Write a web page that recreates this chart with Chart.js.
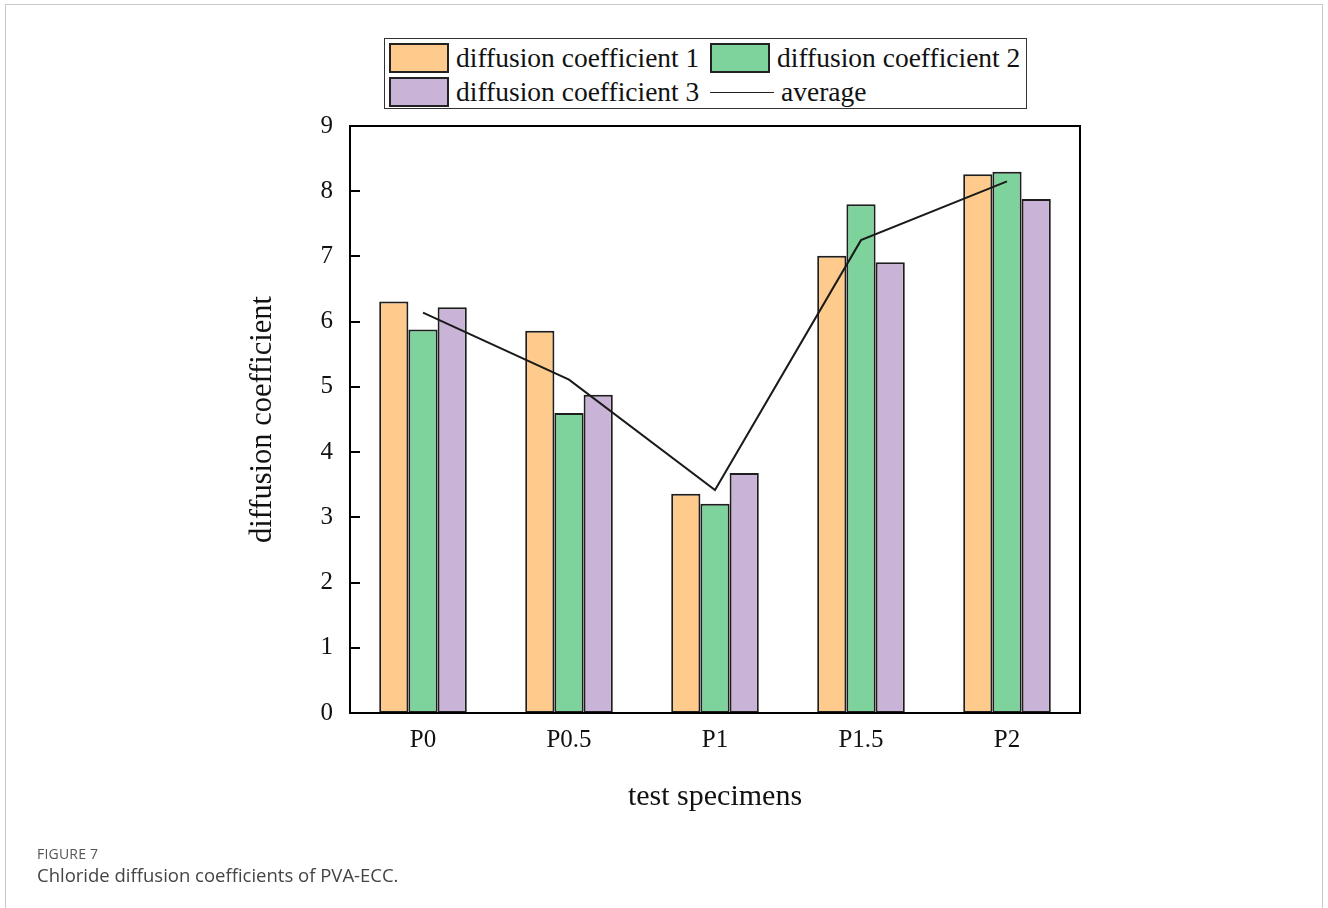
<!DOCTYPE html>
<html>
<head>
<meta charset="utf-8">
<title>Chloride diffusion coefficients of PVA-ECC</title>
<script src="https://cdn.jsdelivr.net/npm/chart.js@4.4.0/dist/chart.umd.min.js"></script>
<style>
  body { margin: 0; background: #fff; width: 1328px; height: 908px; overflow: hidden; position: relative; }
  #frame { position: absolute; left: 5px; top: 4px; width: 1316px; height: 930px; border: 1px solid #c8c8c8; }
  #the_chart { position: absolute; left: 0; top: 0; }
  #legend { position: absolute; left: 384px; top: 38px; width: 641px; height: 69px; border: 1.5px solid #333;
            background: #fff; font-family: "Liberation Serif", serif; font-size: 27.5px; color: #111; }
  .item { position: absolute; height: 32px; display: flex; align-items: center; white-space: nowrap; }
  .swatch { width: 60px; height: 30px; border: 2px solid #222; margin-right: 7px; box-sizing: border-box; }
  .dash { width: 64px; height: 0; border-top: 1.8px solid #222; margin-right: 7px; }
  #caption { position: absolute; left: 37px; top: 844px; font-family: "Open Sans", sans-serif; color: #555; }
  #caption .fig { font-size: 14px; letter-spacing: 0.2px; }
  #caption .txt { font-size: 18.5px; color: #444; margin-top: -1px; }
</style>
</head>
<body>
<div id="frame"></div>
<canvas id="the_chart" width="1328" height="908"></canvas>
<div id="legend"></div>
<div id="caption">
  <div class="fig">FIGURE 7</div>
  <div class="txt">Chloride diffusion coefficients of PVA-ECC.</div>
</div>
<script>
// data
const categories = ['P0', 'P0.5', 'P1', 'P1.5', 'P2'];
const coef1 = [6.31, 5.86, 3.36, 7.01, 8.26];
const coef2 = [5.88, 4.60, 3.21, 7.80, 8.30];
const coef3 = [6.22, 4.88, 3.68, 6.91, 7.88];
const average = [6.14, 5.11, 3.42, 7.25, 8.15];
const seriesNames = ['diffusion coefficient 1', 'diffusion coefficient 2', 'diffusion coefficient 3', 'average'];
const barColors = ['#FECB8C', '#7DD39B', '#C9B3D6'];
const yMin = 0, yMax = 9, yStep = 1;

const serif = "'Liberation Serif', 'Times New Roman', serif";

// frame round the plot + inward ticks on the left axis
const boxPlugin = {
  id: 'box',
  afterDraw(chart) {
    const ctx = chart.ctx, a = chart.chartArea, y = chart.scales.y;
    ctx.save();
    ctx.strokeStyle = '#000';
    ctx.lineWidth = 2;
    ctx.strokeRect(a.left, a.top, a.right - a.left, a.bottom - a.top);
    y.ticks.forEach(t => {
      let py = Math.round(y.getPixelForValue(t.value));
      ctx.beginPath();
      ctx.moveTo(a.left, py);
      ctx.lineTo(a.left + 10, py);
      ctx.stroke();
    });
    ctx.restore();
  }
};

let barSets = [coef1, coef2, coef3].map((vals, i) => ({
  type: 'bar',
  label: seriesNames[i],
  data: vals,
  backgroundColor: barColors[i],
  borderColor: '#1e1e1e',
  borderWidth: 2,
  borderSkipped: false,
  categoryPercentage: 0.6,
  barPercentage: 1.0,
  order: 1
}));

let lineSet = {
  type: 'line',
  label: seriesNames[3],
  data: average,
  borderColor: '#1a1a1a',
  borderWidth: 2,
  pointRadius: 0,
  tension: 0,
  fill: false,
  order: 0
};

const theChart = new Chart(document.getElementById('the_chart'), {
  data: { labels: categories, datasets: [...barSets, lineSet] },
  options: {
    responsive: false,
    animation: false,
    devicePixelRatio: 1,
    layout: { padding: { left: 245, top: 126, right: 248, bottom: 93 } },
    plugins: { legend: { display: false }, tooltip: { enabled: false } },
    scales: {
      x: {
        offset: true,
        grid: { display: false },
        border: { display: true, color: '#000', width: 2 },
        ticks: { color: '#111', font: { family: serif, size: 25 }, padding: 4 },
        title: { display: true, text: 'test specimens', color: '#111', font: { family: serif, size: 30 }, padding: 0 },
        afterFit: s => { s.height = 102; }
      },
      y: {
        min: yMin,
        max: yMax,
        grid: { display: false },
        border: { display: true, color: '#000', width: 2 },
        ticks: { stepSize: yStep, color: '#111', font: { family: serif, size: 25 }, padding: 9 },
        title: { display: true, text: 'diffusion coefficient', color: '#111', font: { family: serif, size: 30.5 }, padding: 0 },
        afterFit: s => { s.width = 105; }
      }
    }
  },
  plugins: [boxPlugin]
});

// legend, two columns like the original
function addLegend() {
  const legend = document.getElementById('legend');
  const cols = [4, 325];
  const rows = [3, 37];
  seriesNames.forEach((name, i) => {
    let item = document.createElement('div');
    item.className = 'item';
    item.style.left = cols[i % 2] + 'px';
    item.style.top = rows[Math.floor(i / 2)] + 'px';
    let mark = document.createElement('div');
    if (i < 3) {
      mark.className = 'swatch';
      mark.style.background = barColors[i];
    } else {
      mark.className = 'dash';
    }
    item.appendChild(mark);
    item.appendChild(document.createTextNode(name));
    legend.appendChild(item);
  });
}
addLegend();
</script>
</body>
</html>
